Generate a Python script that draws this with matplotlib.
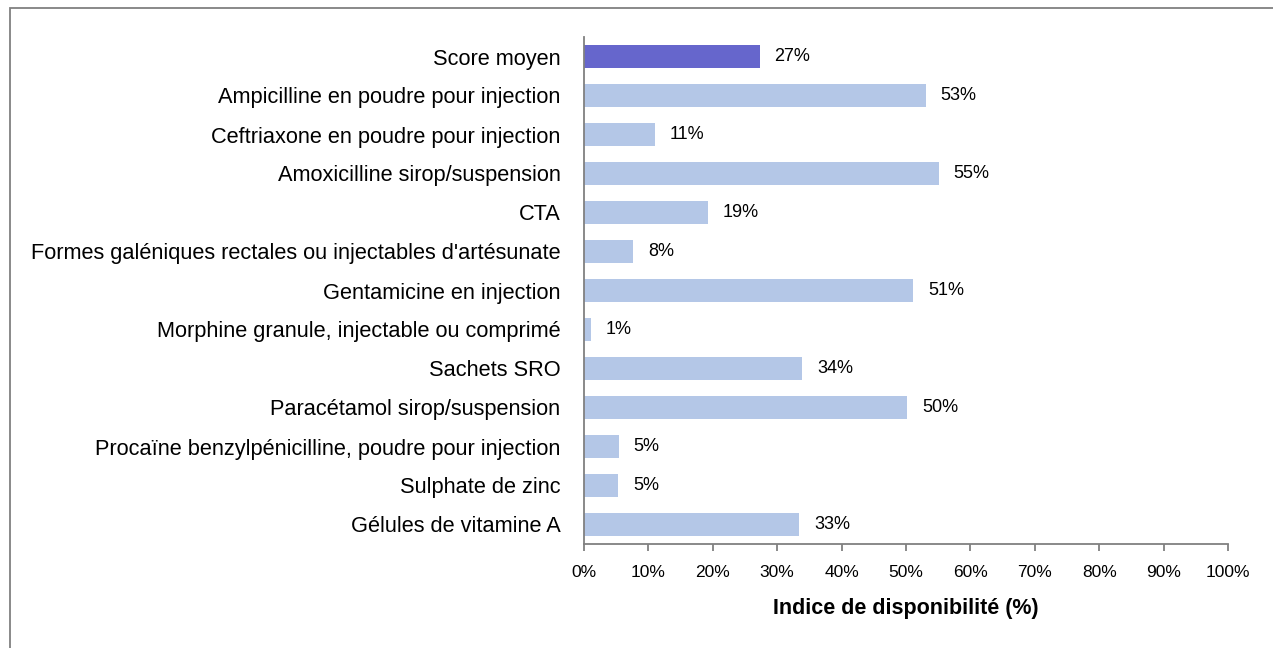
import matplotlib
matplotlib.use("Agg")
import matplotlib.pyplot as plt
from matplotlib.patches import Rectangle

categories = [
    "Score moyen",
    "Ampicilline en poudre pour injection",
    "Ceftriaxone en poudre pour injection",
    "Amoxicilline sirop/suspension",
    "CTA",
    "Formes galéniques rectales ou injectables d'artésunate",
    "Gentamicine en injection",
    "Morphine granule, injectable ou comprimé",
    "Sachets SRO",
    "Paracétamol sirop/suspension",
    "Procaïne benzylpénicilline, poudre pour injection",
    "Sulphate de zinc",
    "Gélules de vitamine A",
]
values = [27.3, 53.1, 11.0, 55.1, 19.3, 7.6, 51.1, 1.1, 33.9, 50.2, 5.4, 5.3, 33.4]
labels = ["27%", "53%", "11%", "55%", "19%", "8%", "51%", "1%", "34%", "50%", "5%", "5%", "33%"]
xticks = [0, 10, 20, 30, 40, 50, 60, 70, 80, 90, 100]
xlabel = "Indice de disponibilité (%)"

plt.rcParams['font.family'] = ['Liberation Sans', 'DejaVu Sans']

W, H = 1273, 648
fig = plt.figure(figsize=(W / 100, H / 100), dpi=100)
ax = fig.add_axes([584 / W, 1 - 544 / H, (1228 - 584) / W, (544 - 37) / H])

n = len(categories)
ypos = [n - 1 - i for i in range(n)]
colors = ["#6666CC"] + ["#B4C7E7"] * (n - 1)
ax.barh(ypos, values, height=0.6, color=colors, edgecolor="none")
for y, v, lab in zip(ypos, values, labels):
    ax.text(v + 2.3, y, lab, va="center", ha="left", fontsize=13)

ax.set_xlim(0, 100)
ax.set_ylim(-0.5, n - 0.5)
ax.set_yticks(ypos)
ax.set_yticklabels(categories, fontsize=15.7)
ax.set_xticks(xticks)
ax.set_xticklabels([f"{t}%" for t in xticks], fontsize=12.5)
ax.set_xlabel(xlabel, fontsize=15.5, fontweight="bold", labelpad=13)

for s in ["top", "right"]:
    ax.spines[s].set_visible(False)
for s in ["left", "bottom"]:
    ax.spines[s].set_color("#808080")
    ax.spines[s].set_linewidth(1.3)
ax.tick_params(axis="y", length=0, pad=17)
ax.tick_params(axis="x", direction="out", length=5, color="#808080", width=1.3, pad=10)

fig.patches.append(Rectangle((9.5 / W, -0.1), 1.2, 1 - 7.5 / H + 0.1, transform=fig.transFigure,
                             fill=False, edgecolor="#808080", linewidth=1.3))

fig.savefig("out.png", dpi=100)
